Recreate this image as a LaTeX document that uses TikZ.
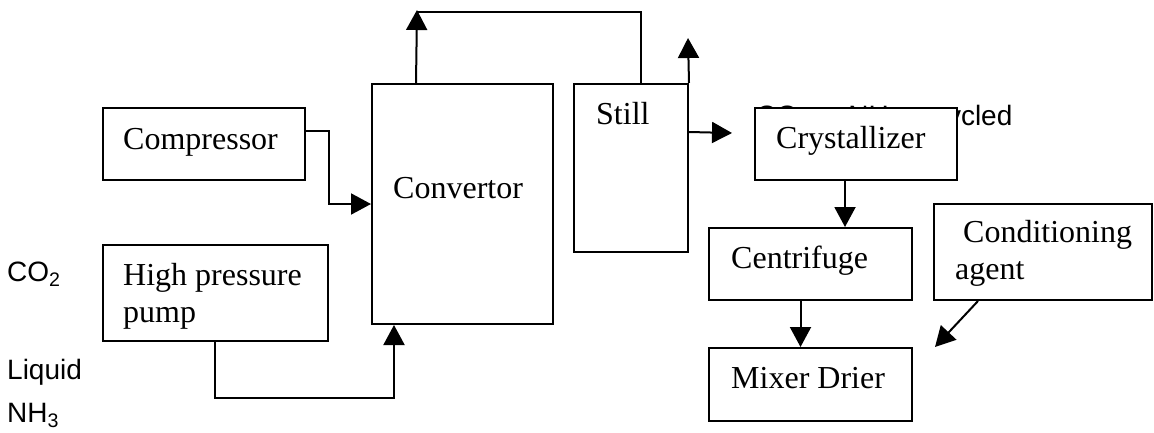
\documentclass[tikz,border=0pt]{standalone}
\usepackage{fontspec}
\setmainfont{Liberation Serif}
\newfontfamily\arialf{Liberation Sans}
\usetikzlibrary{arrows.meta,calc}
\begin{document}
\begin{tikzpicture}[x=1pt,y=-1pt,
  box/.style={draw, line width=2pt, fill=white, inner sep=0pt},
  serif/.style={inner sep=0pt, anchor=base west, font=\fontsize{32}{37}\selectfont},
  sans/.style={inner sep=0pt, anchor=base west, font=\arialf\fontsize{28}{32}\selectfont},
  conn/.style={line width=2pt},
  arr/.style={conn, -{Triangle[length=20pt,width=21pt]}}]
\useasboundingbox (0,0) rectangle (1154,432);

% text partly hidden behind the crystallizer
\node[sans] (recyc) at (756,125) {CO\textsubscript{2}\hspace{7pt} + NH\textsubscript{3} recycled};

% boxes
\node[box, minimum width=202pt, minimum height=72pt] (comp) at (204,144) {};
\node[box, minimum width=225pt, minimum height=96pt] (hpp) at (215.5,293) {};
\node[box, minimum width=181pt, minimum height=240pt] (conv) at (462.5,204) {};
\node[box, minimum width=114pt, minimum height=168pt] (still) at (631,168) {};
\node[box, minimum width=202pt, minimum height=72pt] (cryst) at (856,144) {};
\node[box, minimum width=203pt, minimum height=72pt] (cent) at (810.5,264) {};
\node[box, minimum width=203pt, minimum height=73pt] (mix) at (810.5,384.5) {};
\node[box, minimum width=218pt, minimum height=96pt] (cond) at (1043,252) {};

% box texts
\node[serif] (tcomp) at (123,149) {Compressor};
\node[serif] (thpp1) at (123,285) {High pressure};
\node[serif] (thpp2) at (123,322) {pump};
\node[serif] (tconv) at (393,198) {Convertor};
\node[serif] (tstill) at (596,124) {Still};
\node[serif] (tcryst) at (776,148) {Crystallizer};
\node[serif] (tcent) at (731,268) {Centrifuge};
\node[serif] (tmix) at (731,388) {Mixer Drier};
\node[serif] (tcond1) at (963,242) {Conditioning};
\node[serif] (tcond2) at (955,279) {agent};

% side labels
\node[sans] (lco2) at (7,281) {CO\textsubscript{2}};
\node[sans] (lliq) at (7,379) {Liquid};
\node[sans] (lnh3) at (7,422) {NH\textsubscript{3}};

% free ends
\coordinate (topL) at (417,10);
\coordinate (stillUp) at (688,38);
\coordinate (stillOut) at (732,133);
\coordinate (condOut) at (935,347);

% connectors
\draw[arr] ([yshift=-24pt]comp.north east) -- ++(23,0) |- (conv.west);
\draw[arr] ([xshift=113pt]hpp.south west) -- ++(0,56) -| ([xshift=23pt]conv.south west);
\draw[arr] ([xshift=45pt]conv.north west) -- (topL);
\draw[conn] ([yshift=-2pt]topL) -| ([xshift=68pt]still.north west);
\draw[arr] (still.north east) -- (stillUp);
\draw[arr] ([yshift=-49pt]still.north east) -- (stillOut);
\draw[arr] ([xshift=-11pt]cryst.south) -- ([xshift=-11pt]cryst.south |- cent.north);
\draw[arr] ([xshift=-10pt]cent.south) -- ([xshift=-10pt]cent.south |- mix.north);
\draw[arr] ([xshift=45pt]cond.south west) -- (condOut);
\end{tikzpicture}
\end{document}
